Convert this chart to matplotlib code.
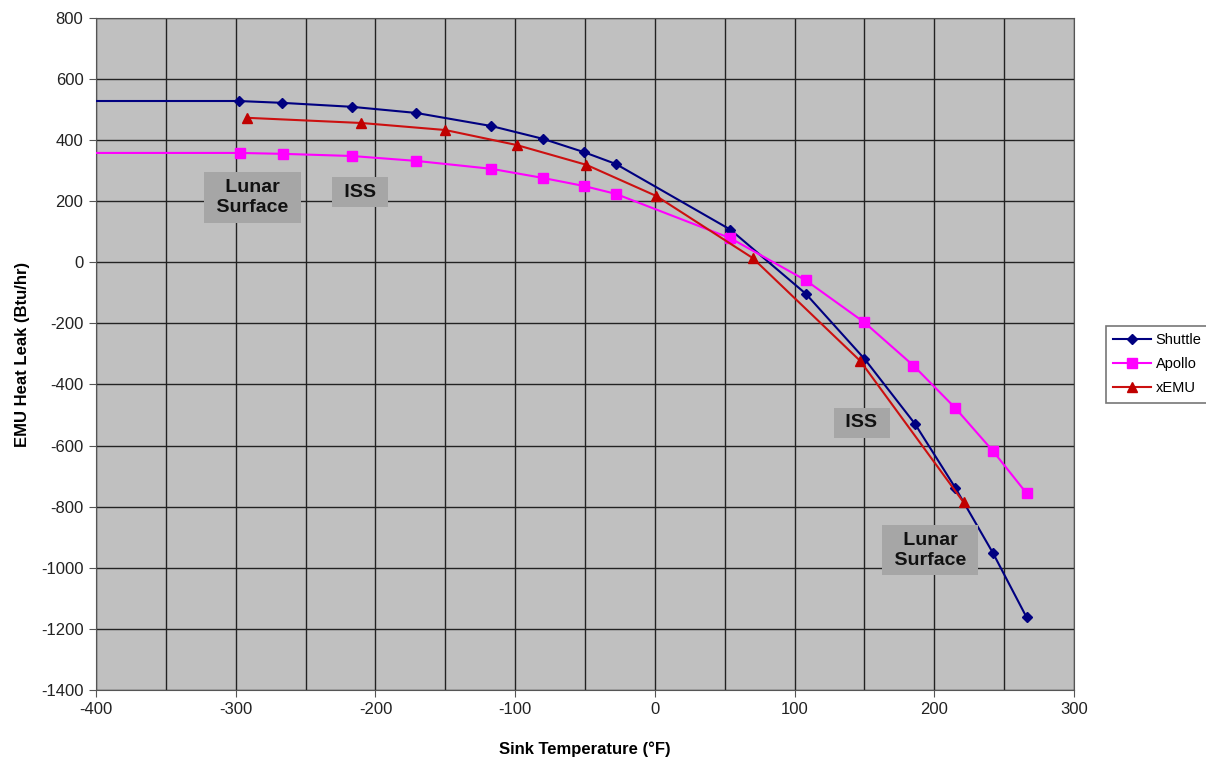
import matplotlib
matplotlib.use("Agg")
from matplotlib import pyplot as plt

plt.rcParams["font.family"] = ["Liberation Sans", "DejaVu Sans"]
plt.rcParams["axes.unicode_minus"] = False

# sink temperature (F) / heat leak (Btu/hr)
shuttle_x = [-400, -298, -267, -217, -171, -117, -80, -51, -28, 54, 108, 150, 186, 215, 242, 266]
shuttle_y = [528, 528, 522, 509, 489, 446, 404, 361, 322, 107, -103, -316, -528, -738, -952, -1162]

apollo_x = [-400, -297, -266, -217, -171, -117, -80, -51, -28, 54, 108, 150, 185, 215, 242, 266]
apollo_y = [358, 358, 355, 348, 332, 306, 276, 250, 224, 79, -59, -197, -338, -477, -618, -756]

xemu_x = [-292, -210, -150, -99, -49, 1, 70, 147, 221]
xemu_y = [473, 456, 433, 384, 319, 217, 14, -323, -786]

labels = [(" Lunar \n Surface ", -288, 212), (" ISS ", -211, 230),
          (" ISS ", 148, -526), (" Lunar \n Surface ", 197, -943)]

fig = plt.figure(figsize=(12.06, 7.62), dpi=100)
ax = fig.add_axes([0.0796, 0.0945, 0.811, 0.882])
ax.set_facecolor("#c0c0c0")

# first point at -400 has no marker (line only)
ax.plot(shuttle_x, shuttle_y, color="#000080", lw=1.5, marker="D", ms=5.5,
        markevery=list(range(1, len(shuttle_x))), label="Shuttle", zorder=3)
ax.plot(apollo_x, apollo_y, color="#ff00ff", lw=1.5, marker="s", ms=7,
        markevery=list(range(1, len(apollo_x))), label="Apollo", zorder=3)
ax.plot(xemu_x, xemu_y, color="#cc1010", lw=1.5, marker="^", ms=7,
        markerfacecolor="#c00000", markeredgecolor="#c00000", label="xEMU", zorder=3)

for txt, x, y in labels:
    ax.text(x, y, txt, ha="center", va="center", fontsize=14, fontweight="bold",
            linespacing=1.2, zorder=4, color="#111111",
            bbox=dict(boxstyle="square,pad=0.35", fc="#a6a6a6", ec="none"))

ax.set_xlim(-400, 300)
ax.set_ylim(-1400, 800)
ax.set_xticks(range(-400, 301, 100))
ax.set_xticks(range(-350, 300, 100), minor=True)
ax.set_yticks(range(-1400, 801, 200))
ax.grid(True, which="both", color="#222222", lw=1.0, zorder=1)
ax.set_axisbelow(True)
ax.tick_params(labelsize=12, length=5, color="#555555", labelcolor="#222222", pad=4)
ax.tick_params(which="minor", length=0)
for s in ax.spines.values():
    s.set_color("#555555")

ax.set_xlabel("Sink Temperature (°F)", fontsize=12, fontweight="bold", labelpad=17)
ax.set_ylabel("EMU Heat Leak (Btu/hr)", fontsize=12, fontweight="bold", labelpad=8)

leg = fig.legend(loc="center left", bbox_to_anchor=(0.917, 0.522), fontsize=10.5,
                 frameon=True, fancybox=False, edgecolor="#555555",
                 handlelength=2.6, handletextpad=0.3, borderpad=0.5,
                 borderaxespad=0, labelspacing=0.7)
leg.get_frame().set_linewidth(1.2)

fig.savefig("out.png", dpi=100)
